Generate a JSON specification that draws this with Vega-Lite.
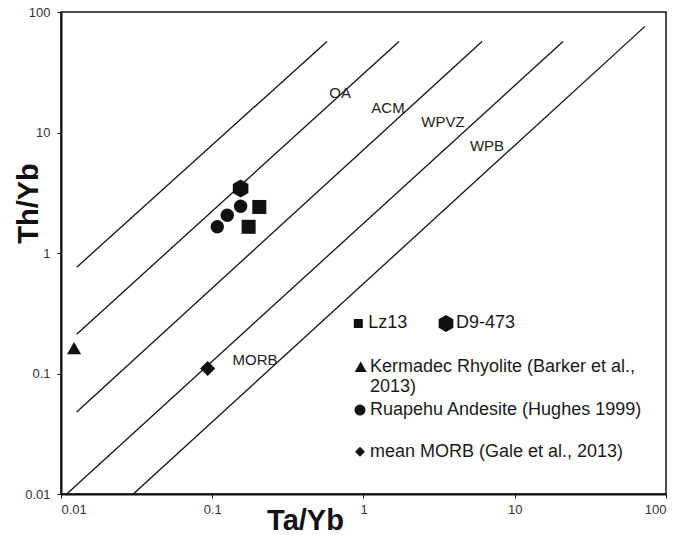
{
  "$schema": "https://vega.github.io/schema/vega-lite/v6.json",
  "width": 605,
  "height": 482,
  "autosize": {"type": "none"},
  "padding": {"left": 61, "top": 12, "right": 14, "bottom": 41},
  "background": "white",
  "config": {
    "view": {"stroke": "#111", "strokeWidth": 1.5},
    "font": "Liberation Sans",
    "axis": {
      "grid": false,
      "domainColor": "#111",
      "domainWidth": 2,
      "tickColor": "#111",
      "tickSize": 4,
      "tickWidth": 1,
      "labelFont": "Liberation Sans",
      "labelFontSize": 13,
      "labelColor": "#333",
      "titleFont": "Liberation Sans",
      "titleFontWeight": "bold",
      "titleFontSize": 29,
      "titleColor": "#111"
    }
  },
  "datasets": {
    "lines": [
      {"id": "L1", "x": 0.0127, "y": 0.762},
      {"id": "L1", "x": 0.5736, "y": 57.0},
      {"id": "L2", "x": 0.0127, "y": 0.212},
      {"id": "L2", "x": 1.717, "y": 57.0},
      {"id": "L3", "x": 0.0127, "y": 0.0479},
      {"id": "L3", "x": 6.075, "y": 57.0},
      {"id": "L4", "x": 0.01091, "y": 0.01},
      {"id": "L4", "x": 20.85, "y": 57.0},
      {"id": "L5", "x": 0.03006, "y": 0.01},
      {"id": "L5", "x": 72.6, "y": 76.0}
    ],
    "points": [
      {"group": "Lz13", "x": 0.2047, "y": 2.41},
      {"group": "Lz13", "x": 0.174, "y": 1.65},
      {"group": "D9-473", "x": 0.154, "y": 3.43},
      {"group": "Ruapehu", "x": 0.154, "y": 2.44},
      {"group": "Ruapehu", "x": 0.1257, "y": 2.06},
      {"group": "Ruapehu", "x": 0.108, "y": 1.65},
      {"group": "Kermadec", "x": 0.0122, "y": 0.1625},
      {"group": "MORB", "x": 0.0933, "y": 0.11}
    ],
    "fieldLabels": [
      {"text": "OA", "x": 0.7, "y": 21.1},
      {"text": "ACM", "x": 1.452, "y": 15.9},
      {"text": "WPVZ", "x": 3.355, "y": 12.2},
      {"text": "WPB", "x": 6.55, "y": 7.69},
      {"text": "MORB", "x": 0.1917, "y": 0.129}
    ],
    "legendSymbols": [
      {"group": "Lz13", "x": 0.924, "y": 0.26},
      {"group": "D9-473", "x": 3.512, "y": 0.26},
      {"group": "Kermadec", "x": 0.958, "y": 0.1137},
      {"group": "Ruapehu", "x": 0.948, "y": 0.0497},
      {"group": "MORB", "x": 0.948, "y": 0.02243}
    ],
    "legendText": [
      {"text": "Lz13", "x": 1.076, "y": 0.26},
      {"text": "D9-473", "x": 4.089, "y": 0.26},
      {"text": "Kermadec Rhyolite (Barker et al.,", "x": 1.104, "y": 0.1137},
      {"text": "2013)", "x": 1.104, "y": 0.0767},
      {"text": "Ruapehu Andesite (Hughes 1999)", "x": 1.104, "y": 0.0497},
      {"text": "mean MORB (Gale et al., 2013)", "x": 1.104, "y": 0.02243}
    ]
  },
  "encoding": {
    "x": {
      "field": "x", "type": "quantitative",
      "scale": {"type": "log", "domain": [0.01, 100], "nice": false},
      "axis": {
        "values": [0.01, 0.1, 1, 10, 100], "format": "~g",
        "title": "Ta/Yb", "labelPadding": 5,
        "titleX": 244, "titleY": 35, "titleAlign": "center", "titleBaseline": "alphabetic", "titleAnchor": null
      }
    },
    "y": {
      "field": "y", "type": "quantitative",
      "scale": {"type": "log", "domain": [0.01, 100], "nice": false},
      "axis": {
        "values": [0.01, 0.1, 1, 10, 100], "format": "~g",
        "title": "Th/Yb", "labelPadding": 7,
        "titleX": -24, "titleY": 191, "titleAngle": 270, "titleAlign": "center", "titleBaseline": "alphabetic", "titleAnchor": null
      }
    }
  },
  "layer": [
    {
      "data": {"name": "lines"},
      "mark": {"type": "line", "color": "#111", "strokeWidth": 1.3},
      "encoding": {"detail": {"field": "id", "type": "nominal"}}
    },
    {
      "data": {"name": "fieldLabels"},
      "mark": {"type": "text", "fontSize": 15, "color": "#222", "align": "center", "baseline": "middle"},
      "encoding": {"text": {"field": "text", "type": "nominal"}}
    },
    {
      "data": {"name": "points"},
      "transform": [{"filter": "datum.group === 'Lz13'"}],
      "mark": {"type": "point", "shape": "square", "size": 196, "filled": true, "opacity": 1, "color": "#111"}
    },
    {
      "data": {"name": "points"},
      "transform": [{"filter": "datum.group === 'D9-473'"}],
      "mark": {"type": "point", "shape": "M0,-1L0.866,-0.5L0.866,0.5L0,1L-0.866,0.5L-0.866,-0.5Z", "size": 324, "filled": true, "opacity": 1, "color": "#111"}
    },
    {
      "data": {"name": "points"},
      "transform": [{"filter": "datum.group === 'Kermadec'"}],
      "mark": {"type": "point", "shape": "triangle-up", "size": 200, "filled": true, "opacity": 1, "color": "#111"}
    },
    {
      "data": {"name": "points"},
      "transform": [{"filter": "datum.group === 'Ruapehu'"}],
      "mark": {"type": "point", "shape": "circle", "size": 180, "filled": true, "opacity": 1, "color": "#111"}
    },
    {
      "data": {"name": "points"},
      "transform": [{"filter": "datum.group === 'MORB'"}],
      "mark": {"type": "point", "shape": "diamond", "size": 230, "filled": true, "opacity": 1, "color": "#111"}
    },
    {
      "data": {"name": "legendSymbols"},
      "transform": [{"filter": "datum.group === 'Lz13'"}],
      "mark": {"type": "point", "shape": "square", "size": 81, "filled": true, "opacity": 1, "color": "#111"}
    },
    {
      "data": {"name": "legendSymbols"},
      "transform": [{"filter": "datum.group === 'D9-473'"}],
      "mark": {"type": "point", "shape": "M0,-1L0.866,-0.5L0.866,0.5L0,1L-0.866,0.5L-0.866,-0.5Z", "size": 289, "filled": true, "opacity": 1, "color": "#111"}
    },
    {
      "data": {"name": "legendSymbols"},
      "transform": [{"filter": "datum.group === 'Kermadec'"}],
      "mark": {"type": "point", "shape": "triangle-up", "size": 144, "filled": true, "opacity": 1, "color": "#111"}
    },
    {
      "data": {"name": "legendSymbols"},
      "transform": [{"filter": "datum.group === 'Ruapehu'"}],
      "mark": {"type": "point", "shape": "circle", "size": 121, "filled": true, "opacity": 1, "color": "#111"}
    },
    {
      "data": {"name": "legendSymbols"},
      "transform": [{"filter": "datum.group === 'MORB'"}],
      "mark": {"type": "point", "shape": "diamond", "size": 100, "filled": true, "opacity": 1, "color": "#111"}
    },
    {
      "data": {"name": "legendText"},
      "mark": {"type": "text", "fontSize": 18, "color": "#1a1a1a", "align": "left", "baseline": "middle"},
      "encoding": {"text": {"field": "text", "type": "nominal"}}
    }
  ]
}
